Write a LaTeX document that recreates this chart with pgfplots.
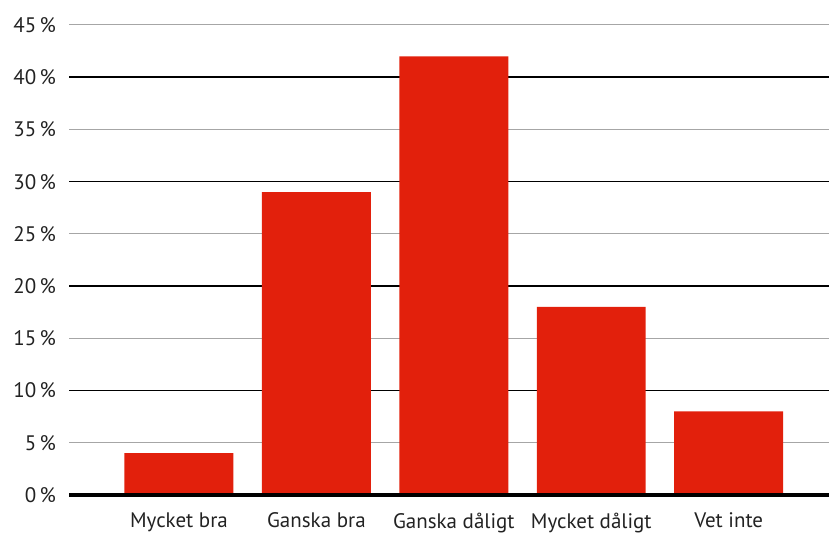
\documentclass[border=0pt]{standalone}
\usepackage{fontspec}
\setmainfont{PT Sans}
\usepackage{pgfplots}
\pgfplotsset{compat=1.18}
\usetikzlibrary{calc}
\definecolor{barred}{HTML}{E2200C}
\definecolor{txt}{HTML}{222222}
\begin{document}
\begin{tikzpicture}
\begin{axis}[
  scale only axis,
  width=380pt, height=235pt,
  xmin=-0.8, xmax=4.73,
  ymin=0, ymax=45,
  axis line style={draw=none},
  major tick style={draw=none},
  xtick=data,
  xticklabels={Mycket bra, Ganska bra, Ganska dåligt, Mycket dåligt, Vet inte},
  ytick={5,15,25,35,45},
  extra y ticks={0,10,20,30,40},
  extra y tick style={grid style={black, line width=0.8pt}},
  ymajorgrids,
  grid style={gray!70, line width=0.5pt},
  yticklabel={\pgfmathprintnumber{\tick}\,\%},
  /pgf/number format/assume math mode=true,
  tick label style={font=\fontsize{10.5}{12}\selectfont, text=txt},
  yticklabel style={xshift=-3pt},
  xticklabel style={yshift=-1pt},
  ybar, bar width=0.793,
  clip=false,
]
\addplot[fill=barred, draw=none] coordinates {(0,4) (1,29) (2,42) (3,18) (4,8)};
\draw[line width=2pt, black] (axis cs:-0.8,0) -- (axis cs:4.73,0);
\end{axis}
\pgfresetboundingbox
\path[use as bounding box] ($(current axis.south west)+(-34.5pt,-19pt)$) rectangle ($(current axis.north east)+(0,12.5pt)$);
\end{tikzpicture}
\end{document}
